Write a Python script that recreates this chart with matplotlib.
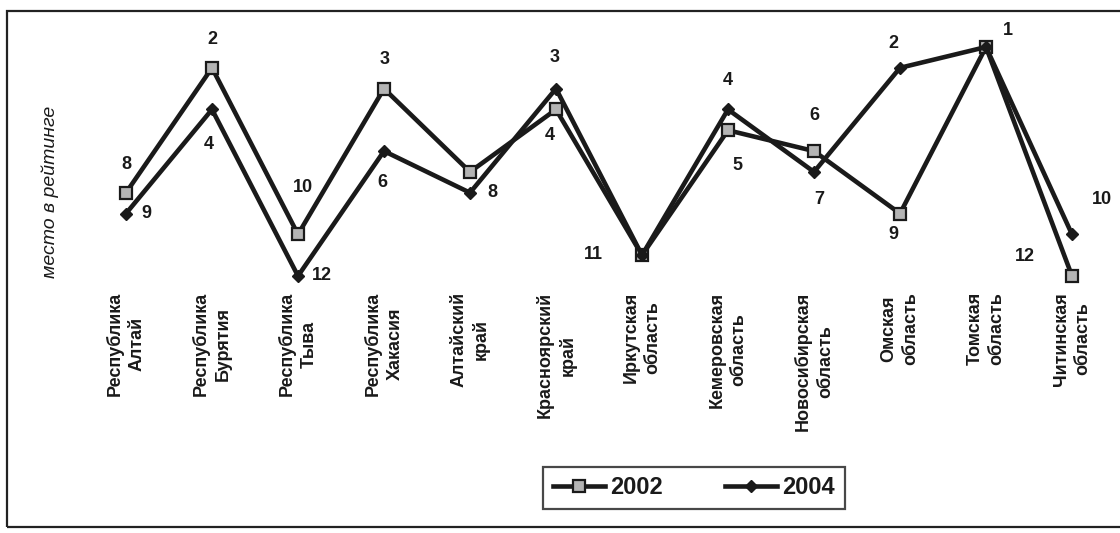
import matplotlib
matplotlib.use("Agg")
import matplotlib.pyplot as plt
from matplotlib.patches import Rectangle

plt.rcParams['font.family'] = ['Liberation Sans', 'DejaVu Sans']

# Regions of Siberia and their place in the ranking
regions = [
    "Республика\nАлтай", "Республика\nБурятия", "Республика\nТыва",
    "Республика\nХакасия", "Алтайский\nкрай", "Красноярский\nкрай",
    "Иркутская\nобласть", "Кемеровская\nобласть", "Новосибирская\nобласть",
    "Омская\nобласть", "Томская\nобласть", "Читинская\nобласть",
]
rank_2002 = [8, 2, 10, 3, 7, 4, 11, 5, 6, 9, 1, 12]
rank_2004 = [9, 4, 12, 6, 8, 3, 11, 4, 7, 2, 1, 10]
series_names = ["2002", "2004"]

INK = "#1a1a1a"

# label offsets in pixels (None = no label)
off_2002 = [(0, 28), (0, 28), (5, 47), (1, 29), None, (-6, -26),
            (-49, 1), (9, -35), (0, 36), (-7, -21), (22, 17), (-47, 19)]
off_2004 = [(20, 0), (-3, -35), (24, 0), (-2, -31), (22, 0), (-1, 31),
            None, (0, 29), (5, -28), (-7, 24), None, (30, 35)]

fig = plt.figure(figsize=(11.2, 5.33), dpi=100)
fig.patch.set_facecolor("white")
ax = fig.add_axes([83 / 1120, 1 - 286.4 / 533, (1115 - 83) / 1120, (286.4 - 36.6) / 533])
ax.set_facecolor("none")

x = list(range(len(regions)))
ax.plot(x, rank_2002, color=INK, lw=3.3, marker="s", markersize=8.2,
        markerfacecolor="#b4b4b4", markeredgecolor=INK, markeredgewidth=1.6,
        label=series_names[0], solid_joinstyle="miter", zorder=3)
ax.plot(x, rank_2004, color=INK, lw=3.3, marker="D", markersize=6.4,
        markerfacecolor=INK, markeredgecolor=INK,
        label=series_names[1], solid_joinstyle="miter", zorder=4)

for vals, offs in ((rank_2002, off_2002), (rank_2004, off_2004)):
    for i, (v, o) in enumerate(zip(vals, offs)):
        if o is None:
            continue
        ax.annotate(str(v), (i, v), xytext=o, textcoords="offset pixels",
                    ha="center", va="center", fontsize=13, fontweight="bold",
                    color=INK, zorder=5)

ax.set_xlim(-0.5, len(regions) - 0.5)
ax.set_ylim(12.5, 0.5)
ax.set_xticks(x)
ax.set_xticklabels(regions, rotation=90, fontsize=13, fontweight="bold",
                   color=INK, linespacing=1.35, multialignment="center")
ax.tick_params(axis="x", length=0, pad=4)
ax.set_yticks([])
for s in ax.spines.values():
    s.set_visible(False)

fig.text(50 / 1120, 1 - 192 / 533, "место в рейтинге", rotation=90,
         ha="center", va="center", fontsize=14, fontstyle="italic", color=INK)

leg = fig.legend(loc="center", bbox_to_anchor=(694 / 1120, 1 - 488 / 533),
                 ncol=2, frameon=True, fancybox=False, shadow=False,
                 prop={"size": 17, "weight": "bold"}, handlelength=2.2,
                 handletextpad=0.25, columnspacing=2.6, borderpad=0.4)
leg.get_frame().set_edgecolor(INK)
leg.get_frame().set_linewidth(1.6)
for t in leg.get_texts():
    t.set_color(INK)

fig.patches.append(Rectangle((7 / 1120, 1 - 527 / 533), 1.2, (527 - 11) / 533,
                             transform=fig.transFigure, fill=False,
                             edgecolor="#222222", linewidth=1.6))

fig.savefig("out.png", dpi=100)
